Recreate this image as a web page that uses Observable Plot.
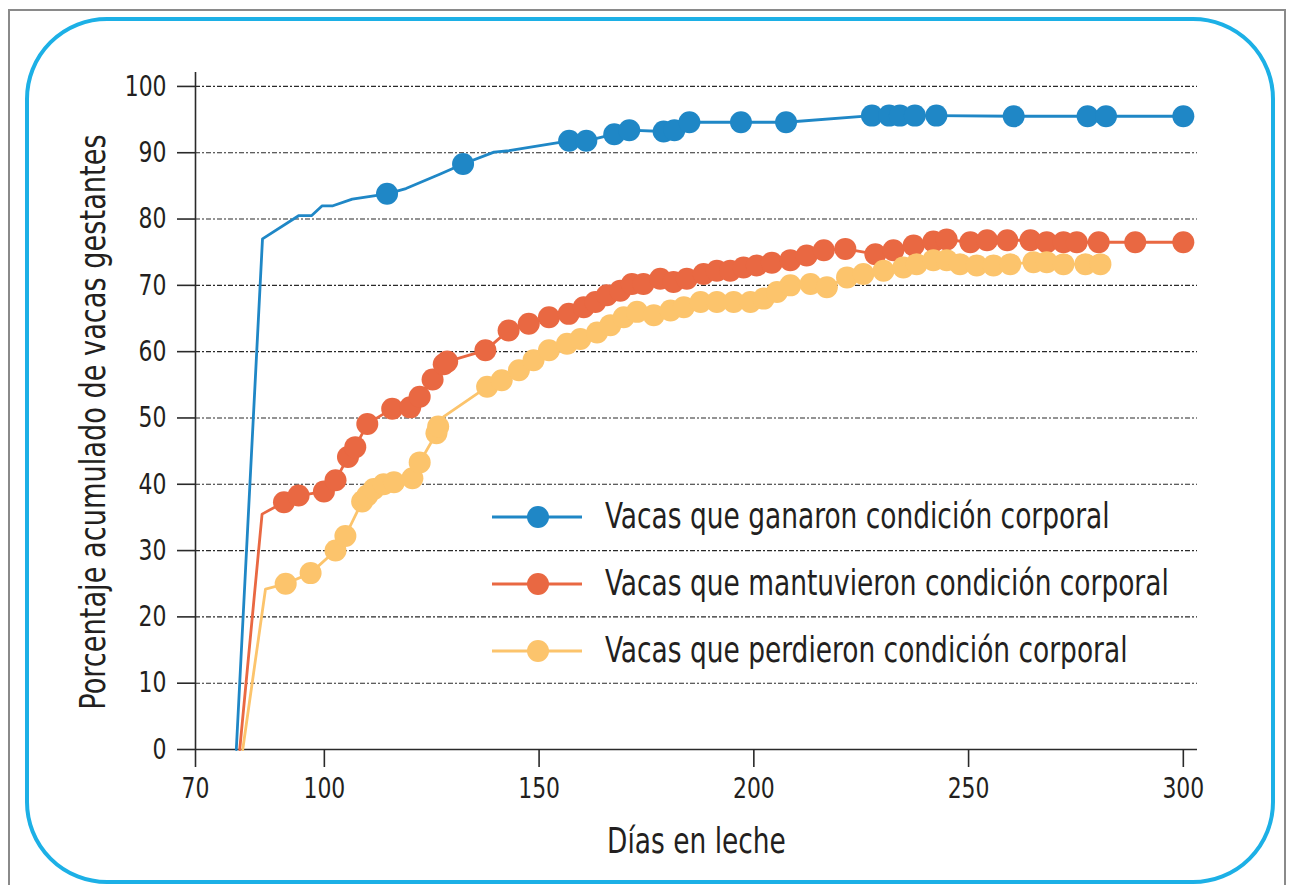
<!DOCTYPE html>
<html>
<head>
<meta charset="utf-8">
<script src="https://cdn.jsdelivr.net/npm/d3@7"></script>
<script src="https://cdn.jsdelivr.net/npm/@observablehq/plot@0.6"></script>
<style>
  html, body { margin: 0; padding: 0; background: #fff; }
  #wrap { position: relative; width: 1294px; height: 885px; overflow: hidden; }
  #outer { position: absolute; left: 8px; top: 9px; width: 1278px; height: 900px; border: 2px solid #8a8a8a; box-sizing: border-box; }
  #inner { position: absolute; left: 25px; top: 17px; width: 1250px; height: 867px; border: 4px solid #1cb0e6; border-radius: 82px; box-sizing: border-box; }
  #chart { position: absolute; left: 0; top: 0; }
  #legend { position: absolute; left: 0; top: 0; pointer-events: none; }
</style>
</head>
<body>
<div id="wrap">
  <div id="outer"></div>
  <div id="inner"></div>
  <div id="chart"></div>
  <svg id="legend" width="1294" height="885"></svg>
</div>
<script>
// ---- Data ----
const seriesNames = [
  "Vacas que ganaron condición corporal",
  "Vacas que mantuvieron condición corporal",
  "Vacas que perdieron condición corporal"
];
const seriesColors = ["#1f87c6", "#e96842", "#fcc46c"];

const ganaronDias = [79.5, 85.6, 94, 97, 99.5, 102, 106.5, 114.6, 119, 127, 132.3, 139.5, 143, 157, 161, 167.5, 171, 179, 181.5, 185, 197, 207.5, 227.5, 231.5, 234, 237.5, 242.5, 260.5, 277.7, 282, 300];
const ganaronPct  = [0, 77, 80.5, 80.5, 82, 82, 83, 83.8, 84.6, 86.8, 88.3, 90.1, 90.3, 91.8, 91.8, 92.8, 93.4, 93.2, 93.4, 94.6, 94.6, 94.6, 95.6, 95.6, 95.6, 95.6, 95.6, 95.5, 95.5, 95.5, 95.5];
const ganaronPunto = [0, 0, 0, 0, 0, 0, 0, 1, 0, 0, 1, 0, 0, 1, 1, 1, 1, 1, 1, 1, 1, 1, 1, 1, 1, 1, 1, 1, 1, 1, 1];

const mantuvieronDias = [80.3, 85.5, 90.6, 94, 99.9, 102.6, 105.5, 107.2, 110, 115.8, 120, 122.2, 125.2, 127.8, 128.6, 137.5, 142.9, 147.6, 152.3, 156.9, 160.4, 163.1, 165.8, 168.9, 171.6, 174.3, 178.2, 181.3, 184.4, 188.3, 191.4, 194.5, 197.6, 200.7, 204.2, 208.5, 212.3, 216.3, 221.3, 228.3, 232.5, 237.2, 241.8, 244.9, 250.4, 254.3, 259, 264.4, 268.2, 272.1, 275.2, 280.3, 288.8, 300];
const mantuvieronPct  = [0, 35.5, 37.3, 38.3, 38.9, 40.6, 44.1, 45.6, 49.1, 51.4, 51.6, 53.2, 55.8, 58.1, 58.5, 60.2, 63.2, 64.2, 65.2, 65.7, 66.7, 67.5, 68.5, 69.2, 70.2, 70.2, 71, 70.5, 71, 71.7, 72.2, 72.2, 72.7, 73, 73.4, 73.8, 74.5, 75.3, 75.5, 74.7, 75.3, 76, 76.6, 76.9, 76.5, 76.8, 76.8, 76.8, 76.5, 76.5, 76.5, 76.5, 76.5, 76.5];
const mantuvieronPunto = mantuvieronDias.map((d, i) => (i < 2 ? 0 : 1));

const perdieronDias = [81, 86.3, 91, 96.8, 102.6, 104.9, 108.8, 110, 111.5, 113.8, 116.2, 120.5, 122.2, 126.1, 126.5, 127.8, 137.9, 141.3, 145.3, 148.7, 152.3, 156.5, 159.6, 163.5, 166.6, 169.7, 172.8, 176.7, 180.6, 183.7, 187.6, 191.4, 195.3, 199.2, 202.3, 205.4, 208.5, 213.2, 217, 221.7, 225.5, 230.2, 234.8, 237.9, 241.8, 244.9, 248, 251.9, 255.8, 259.7, 265.1, 268.2, 272.1, 277.2, 280.7];
const perdieronPct  = [0, 24.2, 25, 26.6, 30, 32.2, 37.4, 38.3, 39.3, 40, 40.3, 40.9, 43.3, 47.7, 48.7, 50.2, 54.7, 55.7, 57.2, 58.7, 60.2, 61.2, 61.9, 62.9, 64, 65.2, 66, 65.5, 66.2, 66.7, 67.5, 67.5, 67.5, 67.5, 68, 69, 70, 70.2, 69.7, 71.2, 71.7, 72.2, 72.7, 73.2, 73.8, 73.8, 73.2, 73, 73, 73.2, 73.5, 73.5, 73.2, 73.2, 73.2];
const perdieronPunto = perdieronDias.map((d, i) => (i < 2 || i === 15 ? 0 : 1));

const xTicks = [70, 100, 150, 200, 250, 300];
const yTicks = [0, 10, 20, 30, 40, 50, 60, 70, 80, 90, 100];
const xTitle = "Días en leche";
const yTitle = "Porcentaje acumulado de vacas gestantes";

// ---- Build ----
const serie = (dias, pct, punto) => dias.map((d, i) => ({dias: d, pct: pct[i], punto: punto[i]}));
const sGan = serie(ganaronDias, ganaronPct, ganaronPunto);
const sMan = serie(mantuvieronDias, mantuvieronPct, mantuvieronPunto);
const sPer = serie(perdieronDias, perdieronPct, perdieronPunto);

const FONT = '"Liberation Sans Narrow", "Arial Narrow", "DejaVu Sans Condensed", sans-serif';
const INK = "#231f20";
const AXIS = "#2a2a2a";

const seriesMarks = (data, color) => [
  Plot.line(data, {x: "dias", y: "pct", stroke: color, strokeWidth: 2.8}),
  Plot.dot(data.filter(d => d.punto), {x: "dias", y: "pct", r: 11, fill: color, stroke: null})
];

const chart = Plot.plot({
  width: 1294,
  height: 885,
  marginLeft: 195,
  marginRight: 97,
  marginTop: 72,
  marginBottom: 136,
  style: {fontFamily: FONT, color: INK, background: "transparent", overflow: "visible"},
  x: {domain: [70, 303.3]},
  y: {domain: [0, 102.1]},
  marks: [
    Plot.gridY(yTicks.filter(t => t > 0), {stroke: AXIS, strokeOpacity: 1, strokeWidth: 1.1, strokeDasharray: "5,2,2,2"}),
    Plot.ruleY([0], {stroke: AXIS, strokeWidth: 1.6}),
    Plot.ruleX([70], {stroke: AXIS, strokeWidth: 1.6}),
    Plot.axisX(xTicks, {tickSize: 18, tickPadding: 10, fontSize: 29, label: null, stroke: AXIS, strokeWidth: 1.6}),
    Plot.axisY(yTicks, {tickSize: 18, tickPadding: 11, fontSize: 29, label: null, stroke: AXIS, strokeWidth: 1.6}),
    Plot.text([xTitle], {frameAnchor: "bottom", textAnchor: "middle", dy: 103, lineAnchor: "bottom", fontSize: 35, fill: INK}),
    Plot.text([yTitle], {frameAnchor: "left", textAnchor: "middle", rotate: -90, dx: -116, dy: 11, lineAnchor: "top", fontSize: 36, fill: INK}),
    ...seriesMarks(sMan, seriesColors[1]),
    ...seriesMarks(sPer, seriesColors[2]),
    ...seriesMarks(sGan, seriesColors[0])
  ]
});
document.getElementById("chart").appendChild(chart);

// ---- Legend ----
const lg = d3.select("#legend");
const rowY = [517, 584, 651];
seriesNames.forEach((name, i) => {
  const g = lg.append("g").attr("transform", `translate(0,${rowY[i]})`);
  g.append("line").attr("x1", 492).attr("x2", 582).attr("y1", 0).attr("y2", 0)
    .attr("stroke", seriesColors[i]).attr("stroke-width", 3);
  g.append("circle").attr("cx", 538).attr("cy", 0).attr("r", 11).attr("fill", seriesColors[i]);
  g.append("text").attr("x", 605).attr("y", 0).attr("dy", "0.3em")
    .attr("font-family", FONT).attr("font-size", 35).attr("fill", INK).text(name);
});

// ---- Condense text to mimic a narrow typeface (fallback font is wider) ----
document.querySelectorAll("#wrap text").forEach(t => {
  const w = t.getComputedTextLength();
  if (w > 0) {
    t.setAttribute("textLength", (w * 0.84).toFixed(1));
    t.setAttribute("lengthAdjust", "spacingAndGlyphs");
  }
});
</script>
</body>
</html>
